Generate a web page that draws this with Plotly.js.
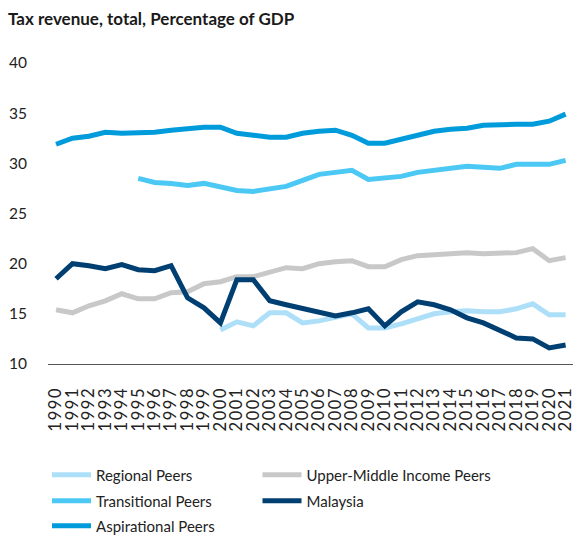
<!DOCTYPE html>
<html>
<head>
<meta charset="utf-8">
<script src="https://cdn.plot.ly/plotly-3.0.1.min.js"></script>
<style>
  html, body { margin: 0; padding: 0; background: #fff; }
  #chart { width: 573px; height: 535px; }
  #chart .xtick text { letter-spacing: 1.6px; }
</style>
</head>
<body>
<div id="chart"></div>
<script>
const years = [1990,1991,1992,1993,1994,1995,1996,1997,1998,1999,2000,2001,2002,2003,2004,2005,
               2006,2007,2008,2009,2010,2011,2012,2013,2014,2015,2016,2017,2018,2019,2020,2021];

const regionalYears = [2000,2001,2002,2003,2004,2005,2006,2007,2008,2009,2010,
                       2011,2012,2013,2014,2015,2016,2017,2018,2019,2020,2021];
const regionalPeers = [13.4,14.2,13.8,15.1,15.1,14.1,14.3,14.7,15.0,13.6,13.6,
                       14.0,14.5,15.0,15.2,15.3,15.2,15.2,15.5,16.0,14.9,14.9];

const transitionalYears = [1995,1996,1997,1998,1999,2000,2001,2002,2003,2004,2005,2006,2007,2008,
                           2009,2010,2011,2012,2013,2014,2015,2016,2017,2018,2019,2020,2021];
const transitionalPeers = [28.5,28.1,28.0,27.8,28.0,27.7,27.3,27.2,27.5,27.7,28.3,28.9,29.1,29.3,
                           28.4,28.5,28.7,29.1,29.3,29.4,29.7,29.6,29.5,29.9,29.9,29.9,30.3];

const aspirationalPeers = [31.9,32.5,32.7,33.1,33.0,33.0,33.1,33.3,33.5,33.6,33.6,33.0,32.8,32.6,32.6,33.0,
                           33.2,33.3,32.8,32.0,32.0,32.4,32.8,33.2,33.4,33.5,33.8,33.9,33.9,33.9,34.2,34.9];

const upperMiddlePeers = [15.4,15.1,15.8,16.3,17.0,16.5,16.5,17.1,17.2,18.0,18.2,18.7,18.7,19.2,19.6,19.5,
                          20.0,20.2,20.3,19.7,19.7,20.4,20.8,20.9,21.0,21.1,21.0,21.0,21.1,21.5,20.3,20.6];

const malaysia = [18.5,20.0,19.8,19.5,19.9,19.4,19.3,19.8,16.6,15.6,14.1,18.4,18.4,16.3,15.9,15.5,
                  15.1,14.8,15.1,15.5,13.8,15.2,16.2,15.9,15.4,14.6,14.1,13.3,12.6,12.5,11.6,11.9];

const yTicks = [10,15,20,25,30,35,40];

const FONT = 'Lato, "Open Sans", sans-serif';
const TXT = '#222222';

function line(name, x, y, color, legend) {
  return {
    type: 'scatter', mode: 'lines', name: name, x: x, y: y,
    line: { color: color, width: 5, shape: 'linear' },
    legend: legend, hoverinfo: 'skip'
  };
}

const traces = [
  line('Regional Peers', regionalYears, regionalPeers, '#ADDFF8', 'legend'),
  line('Transitional Peers', transitionalYears, transitionalPeers, '#4CC8F4', 'legend2'),
  line('Aspirational Peers', years, aspirationalPeers, '#009BDB', 'legend3'),
  line('Upper-Middle Income Peers', years, upperMiddlePeers, '#C8C8C8', 'legend4'),
  line('Malaysia', years, malaysia, '#003F72', 'legend5')
];

function leg(px, py) {
  return {
    x: px / 573, y: 1 - py / 535, xref: 'container', yref: 'container',
    xanchor: 'left', yanchor: 'middle',
    orientation: 'v', bgcolor: 'rgba(0,0,0,0)', borderwidth: 0,
    font: { family: FONT, size: 15, color: TXT }, itemwidth: 39
  };
}

const layout = {
  width: 573, height: 535,
  margin: { l: 48, r: 0, t: 63, b: 171, pad: 0, autoexpand: false },
  paper_bgcolor: '#ffffff', plot_bgcolor: '#ffffff',
  font: { family: FONT, color: TXT },
  showlegend: true,
  title: {
    text: '<b>Tax revenue, total, Percentage of GDP</b>',
    x: 8 / 573, xref: 'container', xanchor: 'left',
    y: 1 - 19 / 535, yref: 'container', yanchor: 'middle',
    font: { family: FONT, size: 17, color: '#1a1a1a' }
  },
  xaxis: {
    range: [1989.51, 2021.45],
    tickmode: 'array', tickvals: years, ticktext: years.map(String),
    tickangle: -90, ticks: '', ticklabelstandoff: 15,
    ticklabeloverflow: 'allow',
    tickfont: { family: FONT, size: 16.5, color: TXT },
    showgrid: false, zeroline: false, automargin: false,
    showline: true, linecolor: '#555555', linewidth: 1.2
  },
  yaxis: {
    range: [10, 40],
    tickmode: 'array', tickvals: yTicks, ticktext: yTicks.map(String),
    ticks: '', ticklabelstandoff: 20, automargin: false,
    tickfont: { family: FONT, size: 15.5, color: TXT },
    showgrid: false, zeroline: false, showline: false
  },
  legend: leg(47, 475),
  legend2: leg(47, 501),
  legend3: leg(47, 526),
  legend4: leg(257.5, 475),
  legend5: leg(257.5, 501)
};

Plotly.newPlot('chart', traces, layout, { displayModeBar: false, staticPlot: true });
</script>
</body>
</html>
